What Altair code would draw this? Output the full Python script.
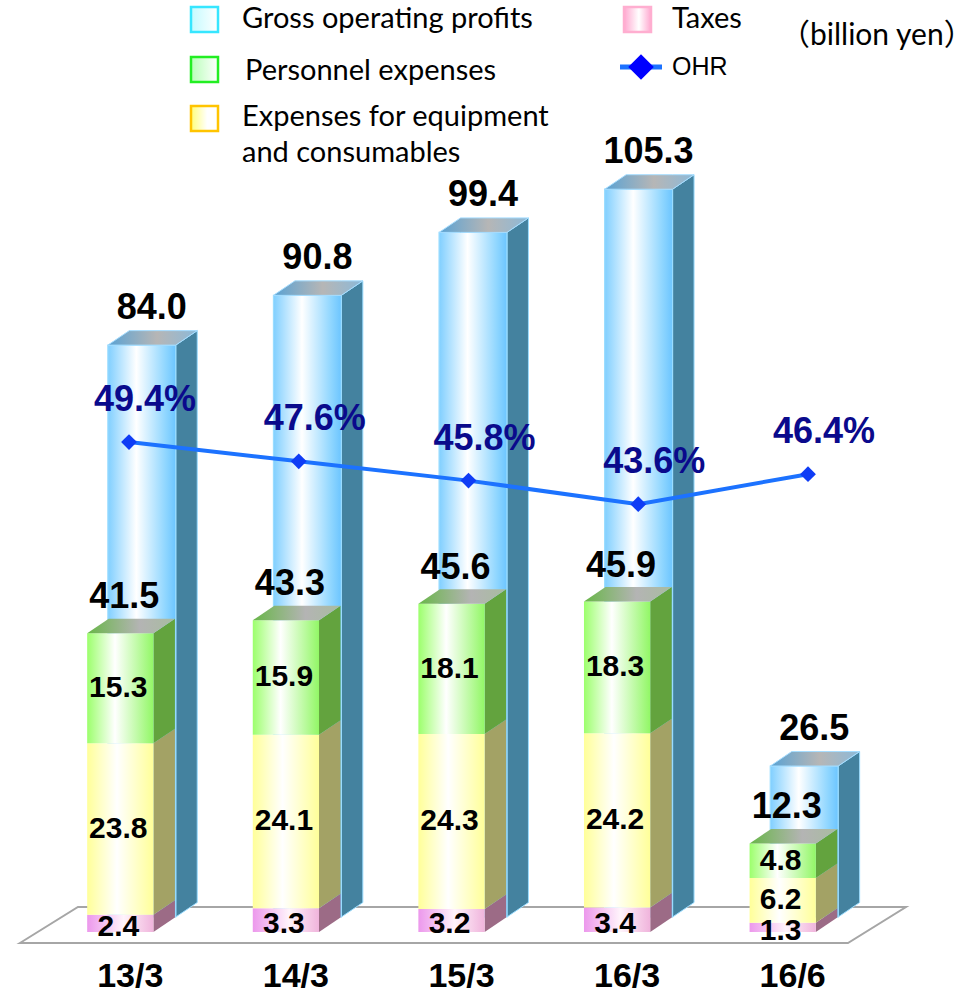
import altair as alt
import pandas as pd

# ---- data (billion yen, OHR in %) ----
periods = ["13/3", "14/3", "15/3", "16/3", "16/6"]
gross_profits = [84.0, 90.8, 99.4, 105.3, 26.5]
taxes = [2.4, 3.3, 3.2, 3.4, 1.3]
equipment = [23.8, 24.1, 24.3, 24.2, 6.2]
personnel = [15.3, 15.9, 18.1, 18.3, 4.8]
ohr = [49.4, 47.6, 45.8, 43.6, 46.4]

W, H = 975, 996

# ---- scene geometry: every scale is pinned by the pixel of its zero and px per unit ----
BAR_X0, BAR_XK = 120.3, 165.6      # category index -> centre of the front (expense) box
EXP_Y0, EXP_YK = 932, 7.2          # expense stack
GOP_Y0, GOP_YK = 960, 7.32         # gross profit column (its base is hidden under the floor)
OHR_X0, OHR_XK = 129, 169.75
OHR_Y0, OHR_YK = 971.6, 10.72

DEPTH_X_PX, DEPTH_Y_PX = 21.5, 14.5
EXP_W, GOP_W = 0.40, 0.41
GOP_FLOOR_PX = 917
FLOOR_FRONT_PX, FLOOR_DX_PX, FLOOR_DY_PX = 943, 58, 36
FLOOR_LEFT, FLOOR_RIGHT_PAD = -0.606, 0.394

SANS = "Liberation Sans, Arial, sans-serif"
LEGEND_FONT = "Lato, 'Noto Sans CJK JP', sans-serif"


def xs(x0, k):
    return alt.Scale(domain=[-x0 / k, (W - x0) / k], nice=False, zero=False)


def ys(y0, k):
    return alt.Scale(domain=[-(H - y0) / k, y0 / k], nice=False, zero=False)


bar_x = xs(BAR_X0, BAR_XK)
exp_y = ys(EXP_Y0, EXP_YK)
gop_y = ys(GOP_Y0, GOP_YK)
ohr_x = xs(OHR_X0, OHR_XK)
ohr_y = ys(OHR_Y0, OHR_YK)

ddx = DEPTH_X_PX / BAR_XK
dye = DEPTH_Y_PX / EXP_YK
dyg = DEPTH_Y_PX / GOP_YK
gop_shift = DEPTH_X_PX / BAR_XK
gop_floor = (GOP_Y0 - GOP_FLOOR_PX) / GOP_YK


def grad(stops):
    return alt.LinearGradient(
        gradient="linear", x1=0, x2=1, y1=0, y2=0,
        stops=[alt.GradientStop(offset=o, color=c) for o, c in stops],
    )


# ---- box tables ----
seg_rows, side_rows = [], []
for i, p in enumerate(periods):
    base = 0.0
    for name, vals in (("tax", taxes), ("equip", equipment), ("pers", personnel)):
        v = vals[i]
        lo, hi = base, base + v
        xl, xr = i - EXP_W / 2, i + EXP_W / 2
        seg_rows.append(dict(i=i, seg=name, v=v, lo=lo, hi=hi, mid=(lo + hi) / 2, xl=xl, xr=xr))
        key = f"{i}-{name}"
        side_rows.append(dict(seg=name, key=key, x=xr, lo=lo, hi=hi))
        side_rows.append(dict(seg=name, key=key, x=xr + ddx, lo=lo + dye, hi=hi + dye))
        base = hi
seg = pd.DataFrame(seg_rows)
side = pd.DataFrame(side_rows)

totals = pd.DataFrame(dict(i=range(len(periods)),
                           total=[t + e + p for t, e, p in zip(taxes, equipment, personnel)]))
top_rows = []
for i, t in zip(totals.i, totals.total):
    a, b = i - EXP_W / 2, i + EXP_W / 2
    top_rows += [dict(key=i, x=a, lo=t, hi=t), dict(key=i, x=a + ddx, lo=t, hi=t + dye),
                 dict(key=i, x=b, lo=t, hi=t + dye), dict(key=i, x=b + ddx, lo=t + dye, hi=t + dye)]
exp_top = pd.DataFrame(top_rows)

gop = pd.DataFrame(dict(i=range(len(periods)), v=gross_profits))
gop["c"] = gop.i + gop_shift
gop["xl"] = gop.c - GOP_W / 2
gop["xr"] = gop.c + GOP_W / 2
gop["lo"] = gop_floor
gop["hi"] = gop.v
g_side, g_top = [], []
for r in gop.itertuples():
    g_side += [dict(key=r.i, x=r.xr, lo=gop_floor, hi=r.v),
               dict(key=r.i, x=r.xr + ddx, lo=gop_floor + dyg, hi=r.v + dyg)]
    g_top += [dict(key=r.i, x=r.xl, lo=r.v, hi=r.v), dict(key=r.i, x=r.xl + ddx, lo=r.v, hi=r.v + dyg),
              dict(key=r.i, x=r.xr, lo=r.v, hi=r.v + dyg), dict(key=r.i, x=r.xr + ddx, lo=r.v + dyg, hi=r.v + dyg)]
gop_side = pd.DataFrame(g_side)
gop_top = pd.DataFrame(g_top)

# floor plate drawn in the expense scale
f_front = (EXP_Y0 - FLOOR_FRONT_PX) / EXP_YK
f_back = f_front + FLOOR_DY_PX / EXP_YK
f_dx = FLOOR_DX_PX / BAR_XK
f_right = len(periods) - 1 + FLOOR_RIGHT_PAD
floor = pd.DataFrame(dict(key=[0] * 4,
                          x=[FLOOR_LEFT, FLOOR_LEFT + f_dx, f_right, f_right + f_dx],
                          lo=[f_front, f_front, f_front, f_back],
                          hi=[f_front, f_back, f_back, f_back]))

ohr_df = pd.DataFrame(dict(i=range(len(periods)), v=ohr, label=[f"{v:.1f}%" for v in ohr]))
cat_df = pd.DataFrame(dict(i=range(len(periods)), period=periods))


def poly(df, color, ysc, **kw):
    return alt.Chart(df).mark_area(color=color, orient="vertical", interpolate="linear", **kw).encode(
        x=alt.X("x:Q", scale=bar_x, axis=None),
        y=alt.Y("hi:Q", scale=ysc, axis=None, stack=None),
        y2="lo:Q",
        detail="key:N",
    )


def front(df, color, ysc, **kw):
    return alt.Chart(df).mark_rect(color=color, **kw).encode(
        x=alt.X("xl:Q", scale=bar_x, axis=None), x2="xr:Q",
        y=alt.Y("hi:Q", scale=ysc, axis=None), y2="lo:Q",
    )


blue_front = grad([(0, "#80CFFF"), (0.42, "#FFFFFF"), (0.85, "#8FD6FF"), (1, "#6CC5FF")])
blue_top = grad([(0, "#5AA2D3"), (0.55, "#B6B6B6"), (1, "#8CB9D8")])
seg_style = {
    "tax": (grad([(0, "#EC98EC"), (0.55, "#FFF4FB"), (1, "#F0B4DC")]), "#9C6B86"),
    "equip": (grad([(0, "#FFFF99"), (0.45, "#FFFFFF"), (1, "#FFFF99")]), "#A3A265"),
    "pers": (grad([(0, "#9CFF6C"), (0.42, "#FFFFFF"), (1, "#92F766")]), "#63A33E"),
}
green_top = grad([(0, "#68B648"), (0.6, "#B4B4B4"), (1, "#A8BCA0")])

layers = [
    poly(floor, "#FFFFFF", exp_y, stroke="#A6A6A6", strokeWidth=2),
    poly(gop_side, "#44829F", gop_y, stroke="#9ADCFF", strokeWidth=1),
    front(gop, blue_front, gop_y, stroke="#9ADCFF", strokeWidth=1.2),
    poly(gop_top, blue_top, gop_y, stroke="#A6DDFF", strokeWidth=1),
]
for name in ("tax", "equip", "pers"):
    fill, side_col = seg_style[name]
    layers.append(poly(side[side.seg == name], side_col, exp_y))
    layers.append(front(seg[seg.seg == name], fill, exp_y))
layers.append(poly(exp_top, green_top, exp_y))

big = dict(font=SANS, fontWeight="bold", color="black", baseline="middle")
# gross profit values above the columns
layers.append(alt.Chart(gop).mark_text(fontSize=36, dy=-37, dx=10, **big).encode(
    x=alt.X("c:Q", scale=bar_x, axis=None), y=alt.Y("v:Q", scale=gop_y, axis=None),
    text=alt.Text("v:Q", format=".1f")))
# expense totals above the stacks
layers.append(alt.Chart(totals).mark_text(fontSize=36, dy=-36, dx=4, **big).encode(
    x=alt.X("i:Q", scale=bar_x, axis=None), y=alt.Y("total:Q", scale=exp_y, axis=None),
    text=alt.Text("total:Q", format=".1f")))
# segment values (the thin tax slice's value sits a little low)
for name, shift in (("tax", 4), ("equip", 0), ("pers", 0)):
    layers.append(alt.Chart(seg[seg.seg == name]).mark_text(fontSize=30, dx=-2, dy=shift, **big).encode(
        x=alt.X("i:Q", scale=bar_x, axis=None), y=alt.Y("mid:Q", scale=exp_y, axis=None),
        text=alt.Text("v:Q", format=".1f")))

# OHR line
layers.append(alt.Chart(ohr_df).mark_line(color="#1C72FF", strokeWidth=4).encode(
    x=alt.X("i:Q", scale=ohr_x, axis=None), y=alt.Y("v:Q", scale=ohr_y, axis=None)))
layers.append(alt.Chart(ohr_df).mark_point(shape="diamond", filled=True, size=250, color="#0F3CF5", opacity=1).encode(
    x=alt.X("i:Q", scale=ohr_x, axis=None), y=alt.Y("v:Q", scale=ohr_y, axis=None)))
layers.append(alt.Chart(ohr_df).mark_text(font=SANS, fontWeight="bold", fontSize=36, color="#0A0A8C",
                                          baseline="middle", dx=16, dy=-42).encode(
    x=alt.X("i:Q", scale=ohr_x, axis=None), y=alt.Y("v:Q", scale=ohr_y, axis=None), text="label:N"))

# category labels along the floor
layers.append(alt.Chart(cat_df).mark_text(fontSize=34, dx=10, **big).encode(
    x=alt.X("i:Q", scale=bar_x, axis=None), y=alt.value(977), text="period:N"))

# ---- legend ----
one = alt.Data(values=[{"k": 1}])


def swatch(x, y, fill, stroke):
    return alt.Chart(one).mark_rect(color=fill, stroke=stroke, strokeWidth=2.5).encode(
        x=alt.value(x), x2=alt.value(x + 27), y=alt.value(y), y2=alt.value(y + 25))


def label(x, y, txt, font=LEGEND_FONT, size=29):
    return alt.Chart(one).mark_text(font=font, fontSize=size, color="black", align="left",
                                    baseline="middle").encode(
        x=alt.value(x), y=alt.value(y), text=alt.value(txt))


layers += [
    swatch(191, 7, grad([(0, "#C4FBFF"), (1, "#FFFFFF")]), "#36E6FF"),
    label(242, 19, "Gross operating profits"),
    swatch(191, 57, grad([(0, "#B8FFB8"), (1, "#FFFFFF")]), "#22EE22"),
    label(245, 71, "Personnel expenses"),
    swatch(191, 106, grad([(0, "#FFFF7A"), (0.6, "#FFFFFF"), (1, "#FFFFFF")]), "#FFC400"),
    label(242, 117, "Expenses for equipment"),
    label(242, 153, "and consumables"),
    swatch(624, 7, grad([(0, "#FFA8D0"), (0.55, "#FFFFFF"), (1, "#FFA8D0")]), "#FFAED0"),
    label(672, 19, "Taxes"),
    alt.Chart(one).mark_rule(color="#1C72FF", strokeWidth=5).encode(
        x=alt.value(620), x2=alt.value(662), y=alt.value(67)),
    alt.Chart(one).mark_point(shape="diamond", filled=True, size=650, color="#0000FF", opacity=1).encode(
        x=alt.value(641), y=alt.value(67)),
    label(672, 67, "OHR", font=SANS, size=25),
    label(780, 36, "（billion yen）", size=30),
]

chart = alt.layer(*layers).resolve_scale(x="independent", y="independent").properties(
    width=W, height=H, padding=0, autosize=alt.AutoSizeParams(type="none"),
).configure_view(stroke=None)

chart.save("out.html", embed_options={"renderer": "svg", "actions": False})
